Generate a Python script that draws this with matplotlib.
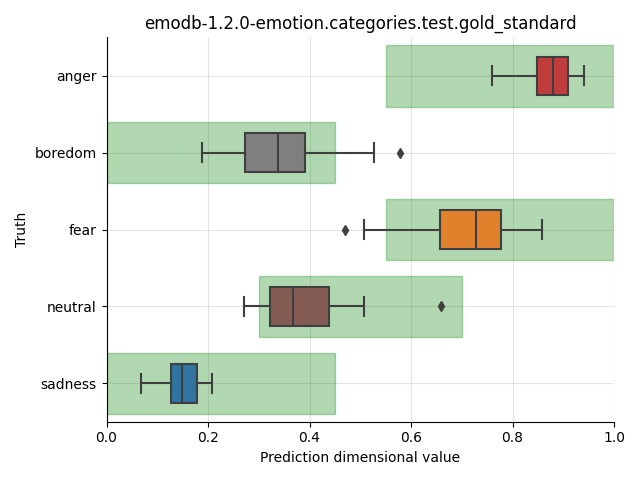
import matplotlib.pyplot as plt
from matplotlib.patches import Rectangle

# emotion categories, top to bottom
categories = ['anger', 'boredom', 'fear', 'neutral', 'sadness']

# box statistics
whisker_lo = [0.759, 0.189, 0.508, 0.270, 0.068]
q1 = [0.849, 0.273, 0.657, 0.322, 0.127]
medians = [0.879, 0.338, 0.729, 0.367, 0.149]
q3 = [0.909, 0.391, 0.778, 0.439, 0.179]
whisker_hi = [0.940, 0.528, 0.859, 0.508, 0.208]
outliers = [[], [0.579], [0.469], [0.659], []]

# gold-standard ranges per category
range_lo = [0.55, 0.0, 0.55, 0.3, 0.0]
range_hi = [1.0, 0.45, 1.0, 0.7, 0.45]

box_colors = ['#c03d3e', '#7f7f7f', '#e1812c', '#845b53', '#3274a1']
line_color = '#3f3f3f'

fig, ax = plt.subplots(figsize=(6.4, 4.8), dpi=100)

ax.grid(True, alpha=0.5, color='#cccccc', linewidth=0.8)
ax.set_axisbelow(True)

for i in range(len(categories)):
    ax.add_patch(Rectangle((range_lo[i], i - 0.4), range_hi[i] - range_lo[i], 0.8,
                           facecolor='green', edgecolor='green', alpha=0.3, lw=1, zorder=1))

stats = []
for i, cat in enumerate(categories):
    stats.append({'label': cat, 'whislo': whisker_lo[i], 'q1': q1[i], 'med': medians[i],
                  'q3': q3[i], 'whishi': whisker_hi[i], 'fliers': outliers[i]})

bp = ax.bxp(stats, positions=range(len(categories)), vert=False, widths=0.5,
            patch_artist=True, zorder=3,
            boxprops=dict(edgecolor=line_color, linewidth=1.5),
            medianprops=dict(color=line_color, linewidth=1.5),
            whiskerprops=dict(color=line_color, linewidth=1.5),
            capprops=dict(color=line_color, linewidth=1.5),
            flierprops=dict(marker='d', markerfacecolor=line_color, markeredgecolor=line_color,
                            markersize=5))
for patch, c in zip(bp['boxes'], box_colors):
    patch.set_facecolor(c)

ax.set_xlim(0, 1)
ax.set_ylim(4.5, -0.5)
ax.set_yticks(range(len(categories)))
ax.set_yticklabels(categories)
ax.set_xlabel('Prediction dimensional value')
ax.set_ylabel('Truth')
ax.set_title('emodb-1.2.0-emotion.categories.test.gold_standard')
ax.spines['top'].set_visible(False)
ax.spines['right'].set_visible(False)

plt.tight_layout()
plt.savefig('out.png', dpi=100)
